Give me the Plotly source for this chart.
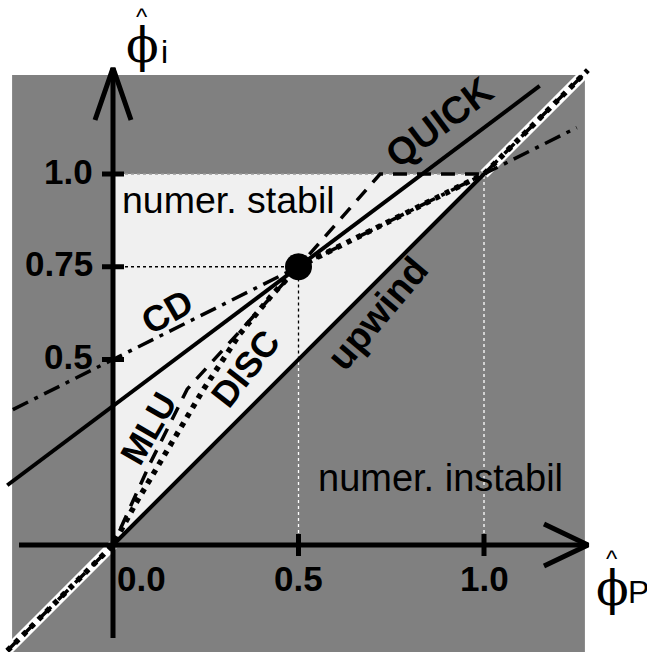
import plotly.graph_objects as go

# ---- canvas / coordinate frame -------------------------------------------
W, H = 647, 652
X0_PX, Y0_PX, UNIT = 113, 545, 371          # origin position and pixels per unit


def dx(px):
    return px / UNIT


x_range = [-X0_PX / UNIT, (W - X0_PX) / UNIT]
y_range = [-(H - Y0_PX) / UNIT, Y0_PX / UNIT]

# ---- schemes in the normalised variable diagram ---------------------------
upwind_x = [0.0, 1.0]
upwind_y = [0.0, 1.0]

# y = x continued outside the bounded region (white band)
ext_lo_x = [-0.285, 0.0]
ext_lo_y = [-0.285, 0.0]
ext_hi_x = [1.0, 1.28]
ext_hi_y = [1.0, 1.28]

quick_x = [-0.285, 1.15]
quick_y = [0.161, 1.2375]

cd_x = [-0.27, 1.25]
cd_y = [0.365, 1.125]

mlu_x = [-0.285, 0.0, 0.1, 0.2, 0.5, 0.72, 1.0, 1.28]
mlu_y = [-0.285, 0.0, 0.22, 0.42, 0.75, 1.0, 1.0, 1.28]

disc_x = [-0.285, 0.0, 0.06, 0.15, 0.243, 0.342, 0.426, 0.5, 1.0, 1.28]
disc_y = [-0.285, 0.0, 0.11, 0.265, 0.418, 0.569, 0.671, 0.75, 1.0, 1.28]

# common point of second order schemes
q_x = [0.5]
q_y = [0.75]

# ticks
xtick_vals = [0.5, 1.0]
xtick_text = ["0.0", "0.5", "1.0"]
xtick_label_pos = [0.0, 0.5, 1.0]
ytick_vals = [0.5, 0.75, 1.0]
ytick_text = ["0.5", "0.75", "1.0"]

GRAY = "#808080"
LIGHT = "#f0f0f0"
BLACK = "#000000"
SANS = "Liberation Sans, Arial, sans-serif"
NARROW = "Liberation Sans Narrow, Liberation Sans, Arial, sans-serif"
SERIF = "DejaVu Serif, Liberation Serif, serif"

fig = go.Figure()


def line(x, y, color=BLACK, width=4, dash="solid"):
    fig.add_trace(go.Scatter(x=x, y=y, mode="lines",
                             line=dict(color=color, width=width, dash=dash),
                             hoverinfo="skip", showlegend=False))


# white band along y = x outside [0, 1]
line(ext_lo_x, ext_lo_y, "white", 10)
line(ext_hi_x, ext_hi_y, "white", 10)

# guide lines
line([0.0, q_x[0]], [q_y[0], q_y[0]], BLACK, 1.3, "3px,3px")
line([q_x[0], q_x[0]], [0.5, q_y[0]], BLACK, 1.3, "3px,3px")
line([q_x[0], q_x[0]], [0.0, 0.5], "white", 1.3, "3px,3px")
line([1.0, 1.0], [0.0, 1.0], "white", 1.3, "3px,3px")
line([0.0, 1.0], [1.0, 1.0], "#9a9a9a", 1.3, "3px,3px")

# axes
ax_lo = -dx(94)
line([ax_lo, x_range[0] + dx(588)], [0, 0], BLACK, 5)
line([0, 0], [-dx(93), dx(477)], BLACK, 5)
# arrow heads
tipx = x_range[0] + dx(588)
line([tipx - dx(44), tipx, tipx - dx(44)], [dx(21), 0, -dx(21)], BLACK, 5)
tipy = dx(477)
line([-dx(18), 0, dx(18)], [tipy - dx(52), tipy, tipy - dx(52)], BLACK, 5)
# tick marks
for v in xtick_vals:
    line([v, v], [-dx(11), dx(11)], BLACK, 5)
for v in ytick_vals:
    line([-dx(11), dx(11)], [v, v], BLACK, 5)

# scheme lines
line(upwind_x, upwind_y, BLACK, 4)
line(quick_x, quick_y, BLACK, 4)
line(cd_x, cd_y, BLACK, 3.5, "17px,7px,4px,7px")
line(mlu_x, mlu_y, BLACK, 3.5, "14px,10px")
line(disc_x, disc_y, BLACK, 5.5, "5px,6px")

fig.add_trace(go.Scatter(x=q_x, y=q_y, mode="markers",
                         marker=dict(color=BLACK, size=27),
                         hoverinfo="skip", showlegend=False))

# background regions
shapes = [
    dict(type="rect", xref="x", yref="y", x0=-0.272, x1=1.272,
         y0=y_range[0] - 0.1, y1=1.267, fillcolor=GRAY, line_width=0,
         layer="below"),
    dict(type="path", xref="x", yref="y", path="M 0,0 L 0,1 L 1,1 Z",
         fillcolor=LIGHT, line_width=0, layer="below"),
]

ann = []


def text(x, y, s, size, family=SANS, angle=0, xanchor="center",
         yanchor="middle", color=BLACK):
    ann.append(dict(x=x, y=y, xref="x", yref="y", text=s, showarrow=False,
                    textangle=angle, xanchor=xanchor, yanchor=yanchor,
                    font=dict(family=family, size=size, color=color)))


# tick labels
for v, s in zip(ytick_vals, ytick_text):
    text(-dx(18), v + 0.008, "<b>%s</b>" % s, 35, NARROW, xanchor="right")
for v, s in zip(xtick_label_pos, xtick_text):
    xx = v + (dx(28) if v == 0 else 0)
    text(xx, -dx(33), "<b>%s</b>" % s, 35, NARROW)

# region labels
text(0.312, 0.93, "numer. stabil", 37.5)
text(0.882, 0.18, "numer. instabil", 38)

# scheme labels
text(0.881, 1.14, "<b>QUICK</b>", 38, angle=-37)
text(0.146, 0.63, "<b>CD</b>", 36, angle=-30)
text(0.094, 0.315, "<b>MLU</b>", 35, angle=-60)
text(0.356, 0.477, "<b>DISC</b>", 36, angle=-52)
text(0.714, 0.625, "<b>upwind</b>", 38, angle=-50)

# axis titles: phi-hat with subscript
text(dx(142 - X0_PX), dx(Y0_PX - 45), "\u03d5", 48, SERIF)
text(dx(142 - X0_PX), dx(Y0_PX - 16), "^", 24, SANS)
text(dx(159 - X0_PX), dx(Y0_PX - 52), "i", 32, SANS, xanchor="left")

text(dx(612 - X0_PX), dx(Y0_PX - 588), "\u03d5", 48, SERIF)
text(dx(612 - X0_PX), dx(Y0_PX - 558), "^", 24, SANS)
text(dx(626 - X0_PX), dx(Y0_PX - 592), "P", 32, SANS, xanchor="left")

fig.update_layout(
    width=W, height=H, margin=dict(l=0, r=0, t=0, b=0),
    paper_bgcolor="white", plot_bgcolor="white",
    xaxis=dict(range=x_range, visible=False, fixedrange=True),
    yaxis=dict(range=y_range, visible=False, fixedrange=True),
    shapes=shapes, annotations=ann, showlegend=False,
)

fig.write_html("out.html")
